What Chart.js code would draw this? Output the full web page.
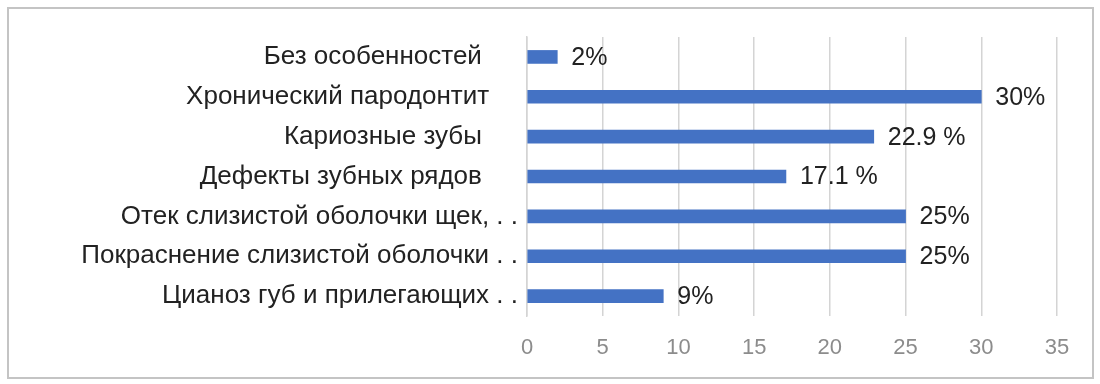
<!DOCTYPE html>
<html>
<head>
<meta charset="utf-8">
<script src="https://cdn.jsdelivr.net/npm/chart.js@4/dist/chart.umd.min.js"></script>
<style>
  html, body { margin: 0; padding: 0; background: #fff; }
  #wrap { position: relative; width: 1100px; height: 384px; }
  #frame {
    position: absolute; left: 7px; top: 7px; width: 1083px; height: 368px;
    border: 2px solid #c4c4c4; pointer-events: none;
  }
  canvas { position: absolute; left: 0; top: 0; }
</style>
</head>
<body>
<div id="wrap">
  <canvas id="chart" width="1100" height="384"></canvas>
  <div id="frame"></div>
</div>
<script>
  // Categories (top to bottom) and values in percent
  const categories = [
    'Без особенностей\u00a0\u00a0\u00a0\u00a0\u00a0',
    'Хронический пародонтит\u00a0\u00a0\u00a0\u00a0',
    'Кариозные зубы\u00a0\u00a0\u00a0\u00a0\u00a0',
    'Дефекты зубных рядов\u00a0\u00a0\u00a0\u00a0\u00a0',
    'Отек слизистой оболочки щек, . .',
    'Покраснение слизистой оболочки . .',
    'Цианоз губ и прилегающих . .'
  ];
  const values = [2, 30, 22.9, 17.1, 25, 25, 9];
  const valueLabels = ['2%', '30%', '22.9 %', '17.1 %', '25%', '25%', '9%'];
  const xTicks = [0, 5, 10, 15, 20, 25, 30, 35];

  const FONT = "'Liberation Sans', Arial, sans-serif";

  // Draws the value label just past the end of each bar
  const barLabels = {
    id: 'barLabels',
    afterDatasetsDraw(chart) {
      const ctx = chart.ctx;
      const meta = chart.getDatasetMeta(0);
      ctx.save();
      ctx.font = '25px ' + FONT;
      ctx.fillStyle = '#222';
      ctx.textAlign = 'left';
      ctx.textBaseline = 'middle';
      meta.data.forEach((bar, i) => {
        ctx.fillText(valueLabels[i], bar.x + 14, bar.y + 1);
      });
      ctx.restore();
    }
  };

  new Chart(document.getElementById('chart'), {
    type: 'bar',
    data: {
      labels: categories,
      datasets: [{
        data: values,
        backgroundColor: '#4472c4',
        borderWidth: 0,
        barThickness: 13
      }]
    },
    options: {
      indexAxis: 'y',
      responsive: false,
      animation: false,
      layout: { padding: { left: 0, right: 43, top: 37, bottom: 16 } },
      plugins: {
        legend: { display: false },
        tooltip: { enabled: false }
      },
      scales: {
        x: {
          min: 0,
          max: 35,
          afterBuildTicks: (scale) => {
            scale.ticks = xTicks.map(v => ({ value: v }));
          },
          afterFit: (scale) => { scale.height = 52; },
          grid: { color: '#d4d4d4', lineWidth: 1.5, drawTicks: false },
          border: { display: false },
          ticks: {
            color: '#8c8c8c',
            padding: 19,
            font: { family: FONT, size: 22 }
          }
        },
        y: {
          afterFit: (scale) => { scale.width = 527; },
          grid: { display: false },
          border: { display: true, color: '#d4d4d4', width: 1.5 },
          ticks: {
            color: '#222',
            padding: 1,
            autoSkip: false,
            font: { family: FONT, size: 26 }
          }
        }
      }
    },
    plugins: [barLabels]
  });
</script>
</body>
</html>
